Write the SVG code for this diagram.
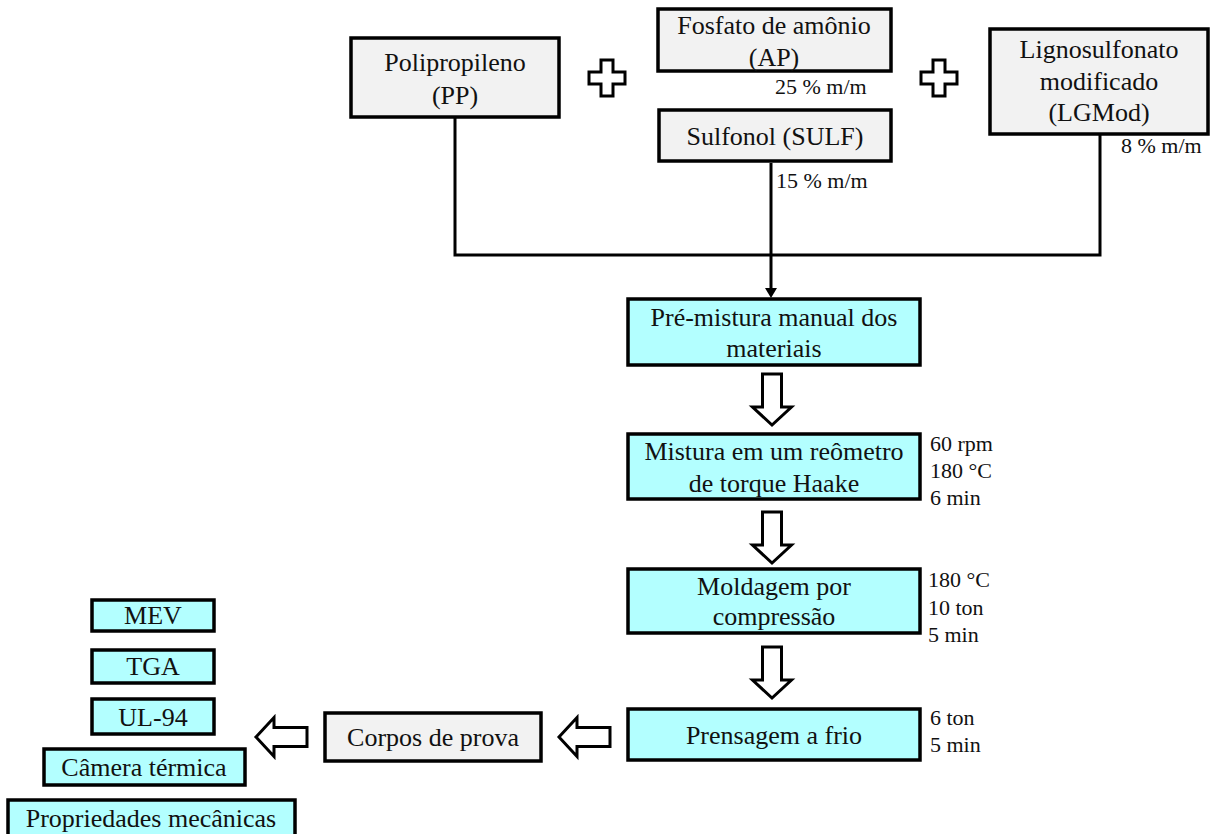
<svg xmlns="http://www.w3.org/2000/svg" width="1216" height="834" viewBox="0 0 1216 834">
<style>
  .box{stroke:#000;stroke-width:3.5}
  .gray{fill:#f2f2f2}
  .cyan{fill:#b3ffff}
  .t{font-family:"Liberation Serif","Times New Roman",serif;font-size:26px;fill:#111;text-anchor:middle}
  .s{font-family:"Liberation Serif","Times New Roman",serif;font-size:22px;fill:#111}
  .ln{fill:none;stroke:#000;stroke-width:3}
  .hol{fill:#fff;stroke:#000;stroke-width:3;stroke-linejoin:miter}
</style>
<defs>
  <marker id="ah" markerWidth="10" markerHeight="10" refX="5" refY="8" orient="auto" markerUnits="userSpaceOnUse" viewBox="0 0 10 10">
    <path d="M0,0 L10,0 L5,9 Z" fill="#000" transform="rotate(-90 5 5)"/>
  </marker>
  <path id="plus" d="M-6,-18 H6 V-6 H18 V6 H6 V18 H-6 V6 H-18 V-6 H-6 Z"/>
  <path id="down" d="M-9.5,0 H9.5 V33 H19.5 L0,51 L-19.5,33 H-9.5 Z"/>
  <path id="left" d="M0,-9.5 V9.5 H-33 V19.5 L-51,0 L-33,-19.5 V-9.5 Z"/>
</defs>

<g id="connectors">
  <path class="ln" d="M455,117 V255 H1100 V135"/>
  <path class="ln" d="M771,163 V290"/>
  <path d="M765,288 L777,288 L771,298 Z" fill="#000"/>
  <use href="#plus" class="hol" x="607" y="78"/>
  <use href="#plus" class="hol" x="939" y="78"/>
  <use href="#down" class="hol" x="772" y="374"/>
  <use href="#down" class="hol" x="772" y="512"/>
  <use href="#down" class="hol" x="772" y="647"/>
  <use href="#left" class="hol" x="610" y="737"/>
  <use href="#left" class="hol" x="307" y="737"/>
</g>

<g id="pp">
  <rect class="box gray" x="351" y="38" width="208" height="79"/>
  <text class="t" x="455" y="71">Polipropileno</text>
  <text class="t" x="455" y="104">(PP)</text>
</g>
<g id="ap">
  <rect class="box gray" x="658" y="9" width="233" height="62"/>
  <text class="t" x="774" y="34">Fosfato de amônio</text>
  <text class="t" x="774" y="66">(AP)</text>
  <text class="s" x="775" y="94">25 % m/m</text>
</g>
<g id="sulf">
  <rect class="box gray" x="659" y="110" width="232" height="51"/>
  <text class="t" x="775" y="145">Sulfonol (SULF)</text>
  <text class="s" x="776" y="188">15 % m/m</text>
</g>
<g id="lgmod">
  <rect class="box gray" x="990" y="29" width="218" height="105"/>
  <text class="t" x="1099" y="58">Lignosulfonato</text>
  <text class="t" x="1099" y="90">modificado</text>
  <text class="t" x="1099" y="121">(LGMod)</text>
  <text class="s" x="1121" y="153">8 % m/m</text>
</g>
<g id="premistura">
  <rect class="box cyan" x="628" y="299" width="292" height="66"/>
  <text class="t" x="774" y="326">Pré-mistura manual dos</text>
  <text class="t" x="774" y="357">materiais</text>
</g>
<g id="mistura">
  <rect class="box cyan" x="628" y="434" width="292" height="65"/>
  <text class="t" x="774" y="460">Mistura em um reômetro</text>
  <text class="t" x="774" y="492">de torque Haake</text>
  <text class="s" x="930" y="451">60 rpm</text>
  <text class="s" x="930" y="478">180 °C</text>
  <text class="s" x="930" y="505">6 min</text>
</g>
<g id="moldagem">
  <rect class="box cyan" x="628" y="569" width="292" height="64"/>
  <text class="t" x="774" y="595">Moldagem por</text>
  <text class="t" x="774" y="625">compressão</text>
  <text class="s" x="928" y="587">180 °C</text>
  <text class="s" x="928" y="615">10 ton</text>
  <text class="s" x="928" y="642">5 min</text>
</g>
<g id="prensagem">
  <rect class="box cyan" x="628" y="709" width="292" height="51"/>
  <text class="t" x="774" y="744">Prensagem a frio</text>
  <text class="s" x="930" y="725">6 ton</text>
  <text class="s" x="930" y="752">5 min</text>
</g>
<g id="corpos">
  <rect class="box gray" x="325" y="713" width="216" height="48"/>
  <text class="t" x="433" y="746">Corpos de prova</text>
</g>
<g id="mev">
  <rect class="box cyan" x="92" y="600" width="122" height="31"/>
  <text class="t" x="153" y="624">MEV</text>
</g>
<g id="tga">
  <rect class="box cyan" x="92" y="650" width="122" height="33"/>
  <text class="t" x="153" y="675">TGA</text>
</g>
<g id="ul94">
  <rect class="box cyan" x="92" y="699" width="122" height="35"/>
  <text class="t" x="153" y="726">UL-94</text>
</g>
<g id="camera">
  <rect class="box cyan" x="44" y="749" width="201" height="36"/>
  <text class="t" x="144" y="776">Câmera térmica</text>
</g>
<g id="propriedades">
  <rect class="box cyan" x="8" y="800" width="287" height="36"/>
  <text class="t" x="151" y="827">Propriedades mecânicas</text>
</g>
</svg>
